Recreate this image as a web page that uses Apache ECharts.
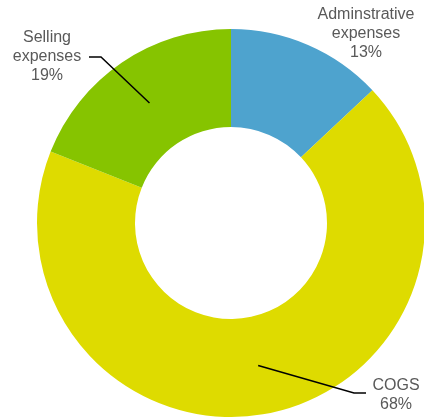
<!DOCTYPE html>
<html>
<head>
<meta charset="utf-8">
<script src="https://cdn.jsdelivr.net/npm/echarts@6/dist/echarts.min.js"></script>
<style>
  html, body { margin: 0; padding: 0; background: #ffffff; }
  #chart { width: 424px; height: 417px; }
</style>
</head>
<body>
<div id="chart"></div>
<script>
// Expense breakdown (share of total, %)
const categories = ['Adminstrative\nexpenses', 'COGS', 'Selling\nexpenses'];
const shares = [13, 68, 19];
const sliceColors = ['#4ea3ce', '#dedb00', '#86c400'];

// Ring geometry
const CX = 231, CY = 223, R_IN = 96, R_OUT = 194;

// Where each label sits, and the elbow/end of its leader line (null = no line)
const labelSpots = [
  { x: 366, y: 34, line: null },
  { x: 396, y: 395, line: [[354, 393], [366, 393]] },
  { x: 47, y: 57, line: [[101, 57], [89, 57]] }
];

// Leader lines start at the middle of the ring, at each slice's mid-angle
const total = shares.reduce((a, b) => a + b, 0);
function ringMidPoint(i) {
  let before = 0;
  for (let k = 0; k < i; k++) before += shares[k];
  const frac = (before + shares[i] / 2) / total;
  const ang = frac * 2 * Math.PI; // clockwise from 12 o'clock
  const r = (R_IN + R_OUT) / 2;
  return [CX + r * Math.sin(ang), CY - r * Math.cos(ang)];
}

// Leader lines drawn on top of the ring
const leaderLines = [];
labelSpots.forEach((spot, i) => {
  if (!spot.line) return;
  leaderLines.push({
    type: 'polyline',
    z: 100,
    silent: true,
    shape: { points: [ringMidPoint(i), spot.line[0], spot.line[1]] },
    style: { stroke: '#000000', lineWidth: 1.5, fill: null }
  });
});

const chart = echarts.init(document.getElementById('chart'), null, { renderer: 'canvas' });
chart.setOption({
  animation: false,
  graphic: leaderLines,
  series: [{
    type: 'pie',
    center: [CX, CY],
    radius: [R_IN, R_OUT],
    startAngle: 90,
    clockwise: true,
    avoidLabelOverlap: false,
    data: categories.map((name, i) => ({
      name: name,
      value: shares[i],
      itemStyle: { color: sliceColors[i] }
    })),
    itemStyle: { borderWidth: 0 },
    emphasis: { disabled: true },
    label: {
      show: true,
      position: 'outside',
      formatter: p => p.name + '\n' + p.value + '%',
      fontFamily: 'Liberation Sans, Arial, sans-serif',
      fontSize: 16,
      lineHeight: 19,
      color: '#595959',
      align: 'center'
    },
    labelLine: { show: false },
    labelLayout: function (params) {
      const spot = labelSpots[params.dataIndex];
      return { x: spot.x, y: spot.y, align: 'center', verticalAlign: 'middle' };
    }
  }]
});
</script>
</body>
</html>
